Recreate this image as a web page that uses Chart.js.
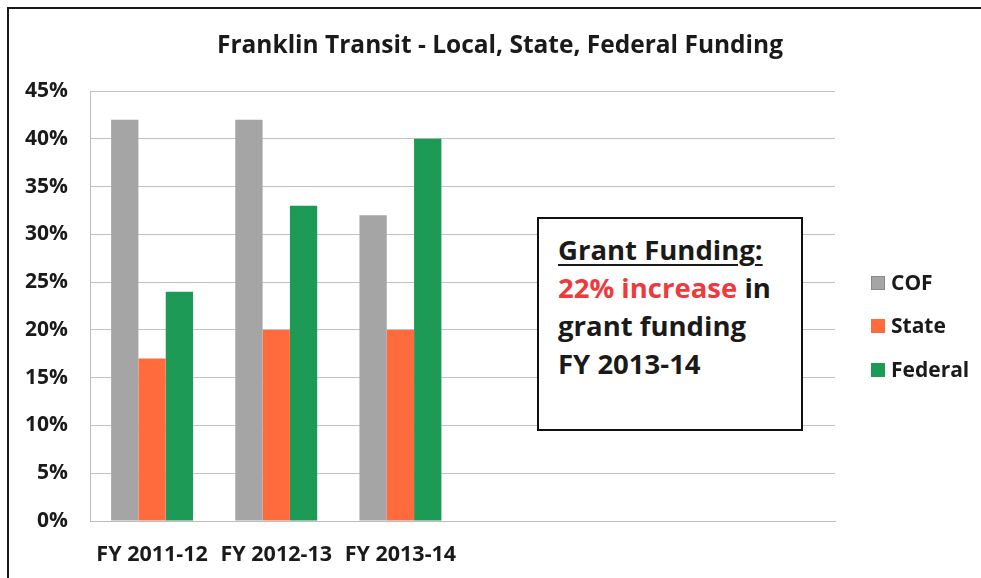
<!DOCTYPE html>
<html><head><meta charset="utf-8">
<script src="https://cdn.jsdelivr.net/npm/chart.js@4"></script>
<style>
html,body{margin:0;padding:0;background:#fff;}
#wrap{position:relative;width:981px;height:578px;overflow:hidden;background:#fff;}
#frame{position:absolute;left:7px;top:7px;width:1000px;height:600px;border-top:2px solid #1a1a1a;border-left:2px solid #1a1a1a;box-sizing:border-box;}
#c{position:absolute;left:0;top:0;}
#note{position:absolute;left:537px;top:217px;width:266px;height:214px;box-sizing:border-box;border:2px solid #111;background:#fff;
 font-family:"Open Sans";font-weight:bold;font-size:27.5px;line-height:38px;color:#1a1a1a;padding:12px 0 0 19px;white-space:nowrap;}
#note .u{text-decoration:underline;text-underline-offset:4px;text-decoration-thickness:2px;}
#note .r{color:#ef3a3c;}
</style></head>
<body>
<div id="wrap">
<canvas id="c" width="981" height="578"></canvas>
<div id="frame"></div>
<div id="note"><span class="u">Grant Funding:</span><br><span class="r">22% increase</span> in<br>grant funding<br>FY 2013-14</div>
</div>
<script>
const titleText = 'Franklin Transit - Local, State, Federal Funding';
const categories = ['FY 2011-12', 'FY 2012-13', 'FY 2013-14', '', '', ''];
const seriesNames = ['COF', 'State', 'Federal'];
const cofValues = [42, 42, 32, null, null, null];
const stateValues = [17, 20, 20, null, null, null];
const federalValues = [24, 33, 40, null, null, null];
const yMin = 0, yMax = 45, yStep = 5;

const colors = ['#a5a5a5', '#ff6b3d', '#1d9a55'];
const borderColors = ['#8a8a8a', '#ff6b3d', '#1d9a55'];
const FONT = '"Open Sans"';

const titlePlugin = {
  id: 'customTitle',
  afterDraw(chart) {
    const ctx = chart.ctx;
    ctx.save();
    ctx.font = 'bold 24.5px ' + FONT;
    ctx.fillStyle = '#1a1a1a';
    ctx.textAlign = 'center';
    ctx.textBaseline = 'alphabetic';
    ctx.fillText(titleText, 500, 53);
    ctx.restore();
  }
};

const legendPlugin = {
  id: 'customLegend',
  afterDraw(chart) {
    const ctx = chart.ctx;
    const ys = [283, 326, 370];
    ctx.save();
    ctx.font = 'bold 21px ' + FONT;
    ctx.textAlign = 'left';
    ctx.textBaseline = 'middle';
    chart.data.datasets.forEach((ds, i) => {
      ctx.fillStyle = ds.backgroundColor;
      ctx.fillRect(871, ys[i] - 7, 14, 14);
      ctx.strokeStyle = ds.borderColor;
      ctx.lineWidth = 1;
      ctx.strokeRect(871.5, ys[i] - 6.5, 13, 13);
      ctx.fillStyle = '#1a1a1a';
      ctx.fillText(ds.label, 891, ys[i] + 1);
    });
    ctx.restore();
  }
};

const seriesData = [cofValues, stateValues, federalValues];

new Chart(document.getElementById('c'), {
  type: 'bar',
  data: {
    labels: categories,
    datasets: seriesNames.map((n, i) => ({
      label: n,
      data: seriesData[i],
      backgroundColor: colors[i],
      borderColor: borderColors[i],
      borderWidth: 0,
      categoryPercentage: 0.66,
      barPercentage: 1.0
    }))
  },
  options: {
    responsive: false,
    animation: false,
    devicePixelRatio: 1,
    layout: { padding: { top: 91, right: 146, left: 0, bottom: 0 } },
    plugins: {
      legend: { display: false },
      title: { display: false },
      tooltip: { enabled: false }
    },
    scales: {
      x: {
        grid: { display: false, drawTicks: false },
        border: { display: true, color: '#bdbdbd', width: 1 },
        ticks: { font: { family: FONT, weight: 'bold', size: 21.5 }, color: '#1a1a1a', padding: 21, maxRotation: 0, autoSkip: false },
        afterFit(s) { s.height = 57; }
      },
      y: {
        min: yMin, max: yMax,
        grid: { color: '#c2c2c2', drawTicks: false, lineWidth: 1 },
        border: { display: true, color: '#bdbdbd', width: 1 },
        ticks: { stepSize: yStep, font: { family: FONT, weight: 'bold', size: 21 }, color: '#1a1a1a', padding: 22,
          callback: v => v + '%' },
        afterFit(s) { s.width = 90; }
      }
    }
  },
  plugins: [titlePlugin, legendPlugin]
});
</script>
</body></html>
